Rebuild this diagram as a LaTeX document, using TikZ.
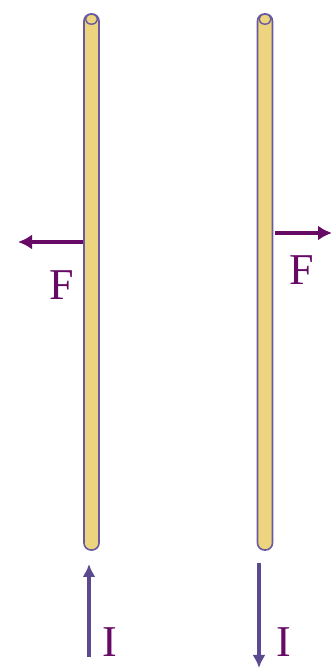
\documentclass[tikz,border=0pt]{standalone}
\usepackage{fontspec}
\setmainfont{Liberation Serif}
\usetikzlibrary{arrows.meta, positioning}
\definecolor{rodfill}{HTML}{EDD47E}
\definecolor{rodedge}{HTML}{6A5A9E}
\definecolor{forcecol}{HTML}{660A66}
\definecolor{currentcol}{HTML}{5C4A90}

\begin{document}
\begin{tikzpicture}[x=1pt, y=1pt,
rod/.style={rectangle, draw=rodedge, fill=rodfill, line width=1.6pt,
    minimum width=15pt, minimum height=536pt, rounded corners=7pt, inner sep=0pt},
rod-cap/.style={draw=rodedge, fill=rodfill, line width=1.4pt},
sym-label/.style={font=\fontsize{44}{44}\selectfont, text=forcecol, inner sep=0pt},
force/.style={draw=forcecol, line width=4.5pt, -{Latex[length=14pt, width=15pt]}},
current/.style={draw=currentcol, line width=4pt, -{Latex[length=13pt, width=13pt]}}
]
\useasboundingbox (0,0) rectangle (331,668);

\node [rod] (rod-left) at (91.5,386) {};
\node [rod] (rod-right) at (265,386) {};
\draw [rod-cap] ([yshift=-6pt]rod-left.north) ellipse (6pt and 5pt);
\draw [rod-cap] ([yshift=-6pt]rod-right.north) ellipse (6pt and 5pt);

% forces
\coordinate (force-left-tip) at (18,426);
\coordinate (force-right-tip) at (332,435);
\draw [force] (rod-left.west |- force-left-tip) -- (force-left-tip);
\draw [force] ([xshift=2pt]rod-right.east |- force-right-tip) -- (force-right-tip);
\node [sym-label] (f-left) at (62,383) {F};
\node [sym-label] (f-right) at (302,398) {F};

% currents
\coordinate (current-left-start) at (89,11);
\coordinate (current-left-tip) at (89,104);
\coordinate (current-right-start) at (259,105);
\coordinate (current-right-tip) at (259,0);
\draw [current] (current-left-start) -- (current-left-tip);
\draw [current] (current-right-start) -- (current-right-tip);
\node [sym-label] (i-left) at (110,26) {I};
\node [sym-label] (i-right) at (284,26) {I};
\end{tikzpicture}
\end{document}
